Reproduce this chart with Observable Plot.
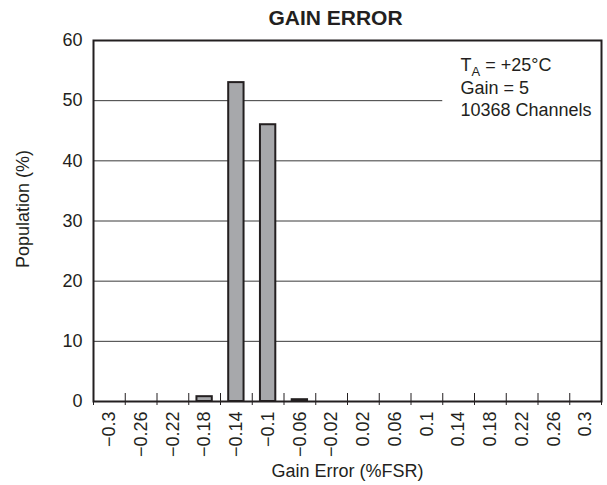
<!DOCTYPE html>
<html><head><meta charset="utf-8">
<script src="https://cdn.jsdelivr.net/npm/d3@7"></script>
<script src="https://cdn.jsdelivr.net/npm/@observablehq/plot@0.6"></script>
<style>body{margin:0;background:#fff} svg{display:block}</style>
</head><body><div id="chart"></div>
<script>
const categories = [-0.3,-0.26,-0.22,-0.18,-0.14,-0.1,-0.06,-0.02,0.02,0.06,0.1,0.14,0.18,0.22,0.26,0.3];
const tickLabels = ["−0.3","−0.26","−0.22","−0.18","−0.14","−0.1","−0.06","−0.02","0.02","0.06","0.1","0.14","0.18","0.22","0.26","0.3"];
const population = [0,0,0,0.8,53,46,0.3,0,0,0,0,0,0,0,0,0];
const binWidth = 0.04;
const yTicks = [0,10,20,30,40,50,60];
const gridFull = [10,20,30,40];
const gridCut = [50];
const gridCutEnd = 0.12;
const annotation = ["TA = +25°C","Gain = 5","10368 Channels"];
const title = "GAIN ERROR";
const xLabel = "Gain Error (%FSR)";
const yLabel = "Population (%)";

const ink = "#231f20";
const data = categories.map((x, i) => ({x, p: population[i]})).filter(d => d.p > 0);
const xDomain = [categories[0] - binWidth/2, categories[categories.length-1] + binWidth/2];
const edges = d3.range(categories.length + 1).map(i => xDomain[0] + i*binWidth);

const plot = Plot.plot({
  width: 607, height: 485,
  marginTop: 40, marginBottom: 84, marginLeft: 93, marginRight: 6,
  style: {fontFamily: "'Liberation Sans', Arial, sans-serif", color: ink, background: "#fff"},
  x: {domain: xDomain},
  y: {domain: [0, 60]},
  marks: [
    Plot.ruleY(gridFull, {stroke: "#3a3a3a", strokeWidth: 1}),
    Plot.ruleY(gridCut, {x1: xDomain[0], x2: gridCutEnd, stroke: "#3a3a3a", strokeWidth: 1}),
    Plot.rectY(data, {x1: d => d.x - binWidth/2, x2: d => d.x + binWidth/2, y1: 0, y2: "p",
      insetLeft: 8.2, insetRight: 8.2, fill: "#a7a8ab", stroke: ink, strokeWidth: 2}),
    Plot.axisY({ticks: yTicks, tickSize: 0, tickPadding: 11, fontSize: 18, label: null}),
    Plot.axisX({ticks: categories, tickSize: 0, tickPadding: 10, tickRotate: -90, fontSize: 18,
      tickFormat: d => tickLabels[categories.indexOf(d)], label: null}),
    Plot.axisX({ticks: edges, tickSize: 12, dy: -8, tickFormat: () => "", label: null, stroke: ink}),
    Plot.frame({stroke: ink, strokeWidth: 2}),
    Plot.text([title], {frameAnchor: "top", lineAnchor: "middle", dx: -12, dy: -22, fontWeight: "bold", fontSize: 21, fill: ink}),
    Plot.text([yLabel], {frameAnchor: "left", textAnchor: "middle", rotate: -90, dx: -70, dy: -12, fontSize: 18, fill: ink}),
    Plot.text([xLabel], {frameAnchor: "bottom", lineAnchor: "middle", dy: 70, fontSize: 18, fill: ink}),
    Plot.text([annotation.join("\n")], {frameAnchor: "top-right", textAnchor: "start", lineAnchor: "top",
      dx: -141, dy: 15, lineHeight: 1.25, fontSize: 18, fill: ink})
  ]
});
document.getElementById("chart").appendChild(plot);

// subscript "A" in T_A
d3.select(plot).selectAll("tspan").each(function() {
  const t = d3.select(this);
  if (t.text() === annotation[0]) {
    const rest = annotation[0].slice(2);
    t.text("T");
    t.append("tspan").attr("font-size", 13).attr("dy", 5).text(annotation[0][1]);
    t.append("tspan").attr("dy", -5).text(rest);
  }
});
</script>
</body></html>
